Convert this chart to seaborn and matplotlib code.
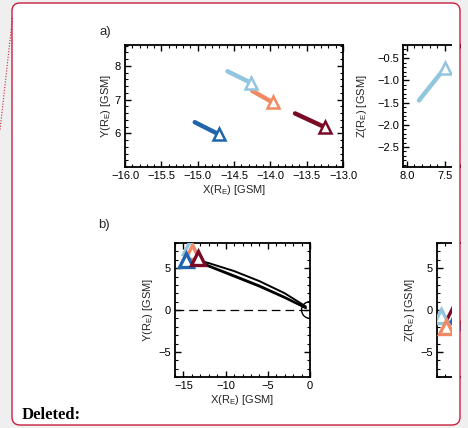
import numpy as np
import pandas as pd
import matplotlib
matplotlib.use("Agg")
import matplotlib.pyplot as plt
import seaborn as sns
from matplotlib.patches import FancyBboxPatch, Rectangle, Circle
from matplotlib.lines import Line2D
from matplotlib.transforms import IdentityTransform
from matplotlib.ticker import MultipleLocator

# ---------------- data ----------------
events = ["E1", "E2", "E3", "E4"]
colors = ["#2166ac", "#92c5de", "#ef8a62", "#7a0a26"]
x_start = [-15.04, -14.59, -14.25, -13.66]
x_end = [-14.71, -14.27, -13.97, -13.25]
y_start = [6.33, 7.84, 7.26, 6.59]
y_end = [5.97, 7.50, 6.92, 6.18]
z_start = [-1.9, -1.45, -2.5, -1.1]
z_end = [-1.4, -0.72, -2.0, -0.6]

# field lines traced toward Earth (panel b)
fl_x = [[-14.6, -12.0, -9.0, -6.0, -3.0, -0.5],
        [-14.2, -12.0, -9.0, -6.0, -3.0, -0.5],
        [-13.3, -12.0, -9.0, -6.0, -3.0, -0.5]]
fl_y = [[6.00, 5.20, 4.00, 2.80, 1.45, 0.22],
        [6.20, 5.60, 4.65, 3.45, 2.00, 0.42],
        [6.10, 5.30, 4.12, 2.92, 1.55, 0.28]]

xticks_a1 = [-16.0, -15.5, -15.0, -14.5, -14.0, -13.5, -13.0]
yticks_a1 = [6, 7, 8]
xticks_a2 = [8.0, 7.5, 7.0, 6.5, 6.0, 5.5]
yticks_a2 = [-0.5, -1.0, -1.5, -2.0, -2.5]
ticks_b = [-15, -10, -5, 0]
yticks_b = [-5, 0, 5]

# ---------------- style ----------------
sns.set_theme(style="ticks")
plt.rcParams["font.family"] = ["Liberation Sans", "DejaVu Sans"]
plt.rcParams["mathtext.default"] = "regular"
plt.rcParams["axes.unicode_minus"] = True

W, H = 468, 428
fig = plt.figure(figsize=(W / 100, H / 100), dpi=100)
fig.patch.set_facecolor("#efefef")

box_col = "#c81e3c"

# white rounded comment box (background)
fig.add_artist(FancyBboxPatch((12, 3), 448, 422,
                              boxstyle="round,pad=0,rounding_size=8",
                              transform=IdentityTransform(), facecolor="white",
                              edgecolor="none", zorder=-5))


def px_axes(l, t, r, b):
    return fig.add_axes([l / W, 1 - b / H, (r - l) / W, (b - t) / H])


a1 = px_axes(125, 45, 343, 167)
a2 = px_axes(403, 45, 621, 167)
b1 = px_axes(175, 243, 310, 377)
b2 = px_axes(437, 243, 572, 377)

FS = 8
lab = "(R$_E$) [GSM]"


def style(ax):
    ax.set_facecolor("white")
    for s in ax.spines.values():
        s.set_linewidth(1.3)
        s.set_color("black")
        s.set_visible(True)
    ax.tick_params(which="both", direction="in", top=True, right=True,
                   labelsize=FS, color="black", labelcolor="black", pad=3)
    ax.tick_params(which="major", length=4, width=1)
    ax.tick_params(which="minor", length=2, width=0.8)
    ax.grid(False)


df = pd.DataFrame({
    "event": events * 2,
    "x": x_start + x_end,
    "y": y_start + y_end,
    "z": z_start + z_end,
})
pal = dict(zip(events, colors))

# ---- panel a1: X vs Y ----
sns.lineplot(data=df, x="x", y="y", hue="event", palette=pal, estimator=None,
             sort=False, lw=3.2, legend=False, ax=a1)
for xe, ye, c in zip(x_end, y_end, colors):
    a1.plot([xe], [ye], marker="^", ms=9, mfc="white", mec=c, mew=1.8, zorder=5)
a1.set_xlim(-16.0, -13.0)
a1.set_ylim(5.0, 8.62)
a1.set_xticks(xticks_a1)
a1.set_xticklabels([f"{v:.1f}".replace("-", "\u2212") for v in xticks_a1])
a1.set_yticks(yticks_a1)
a1.xaxis.set_minor_locator(MultipleLocator(0.1))
a1.yaxis.set_minor_locator(MultipleLocator(0.2))
a1.set_xlabel("X" + lab, fontsize=FS, labelpad=1)
a1.set_ylabel("Y" + lab, fontsize=FS, labelpad=1)
style(a1)

# ---- panel a2: Y vs Z ----
sns.lineplot(data=df, x="y", y="z", hue="event", palette=pal, estimator=None,
             sort=False, lw=3.2, legend=False, ax=a2)
for ye, ze, c in zip(y_end, z_end, colors):
    a2.plot([ye], [ze], marker="^", ms=9, mfc="white", mec=c, mew=1.8, zorder=5)
a2.set_xlim(8.05, 5.18)
a2.set_ylim(-2.95, -0.2)
a2.set_xticks(xticks_a2)
a2.set_xticklabels([f"{v:.1f}" if v >= 7.5 else "" for v in xticks_a2])
a2.set_yticks(yticks_a2)
a2.set_yticklabels([f"{v:.1f}".replace("-", "\u2212") for v in yticks_a2])
a2.xaxis.set_minor_locator(MultipleLocator(0.1))
a2.yaxis.set_minor_locator(MultipleLocator(0.1))
a2.set_xlabel("")
a2.set_ylabel("Z" + lab, fontsize=FS, labelpad=6)
style(a2)

# ---- panel b1: X vs Y overview ----
b1.axhline(0, color="black", lw=0.9, ls=(0, (7, 4)))
for fx, fy in zip(fl_x, fl_y):
    sns.lineplot(x=fx, y=fy, color="black", lw=1.4, sort=False, estimator=None, ax=b1)
b1.add_patch(Circle((0, 0), 1.0, fill=False, ec="black", lw=1.0))
order = [1, 2, 0, 3]
for i in order:
    b1.plot([x_end[i]], [y_end[i]], marker="^", ms=9.5, mfc="white", mec=colors[i],
            mew=2.4, zorder=5)
b1.set_xlim(-16, 0)
b1.set_ylim(-8, 8)
b1.set_xticks(ticks_b)
b1.set_yticks(yticks_b)
b1.xaxis.set_minor_locator(MultipleLocator(1))
b1.yaxis.set_minor_locator(MultipleLocator(1))
b1.set_xlabel("X" + lab, fontsize=FS, labelpad=1)
b1.set_ylabel("Y" + lab, fontsize=FS, labelpad=2)
style(b1)

# ---- panel b2: Y vs Z overview ----
for i in [3, 0, 1, 2]:
    b2.plot([y_end[i]], [z_end[i]], marker="^", ms=9.5, mfc="white", mec=colors[i],
            mew=2.4, zorder=5)
b2.set_xlim(8, -8)
b2.set_ylim(-8, 8)
b2.set_yticks(yticks_b)
b2.set_xticks([5, 0, -5])
b2.set_xticklabels(["", "", ""])
b2.xaxis.set_minor_locator(MultipleLocator(1))
b2.yaxis.set_minor_locator(MultipleLocator(1))
b2.set_xlabel("")
b2.set_ylabel("Z" + lab, fontsize=FS, labelpad=2)
style(b2)

# panel letters
fig.text(99 / W, 1 - 31.5 / H, "a)", fontsize=9.5, va="center", ha="left")
fig.text(98 / W, 1 - 225 / H, "b)", fontsize=9.5, va="center", ha="left")

# clip region at the right of the embedded image
fig.add_artist(Rectangle((452, 4), 7.5, 420, transform=IdentityTransform(),
                         facecolor="white", edgecolor="none", zorder=20))
fig.add_artist(Rectangle((460.5, 0), 10, 428, transform=IdentityTransform(),
                         facecolor="#efefef", edgecolor="none", zorder=20))
# comment box outline
fig.add_artist(FancyBboxPatch((12, 3), 448, 422,
                              boxstyle="round,pad=0,rounding_size=8",
                              transform=IdentityTransform(), facecolor="none",
                              edgecolor=box_col, lw=1.0, zorder=25))
# dotted connector
fig.add_artist(Line2D([12.5, 0], [428 - 18, 428 - 130], transform=IdentityTransform(),
                      color=box_col, lw=0.8, ls=(0, (1, 1.5)), zorder=25))

fig.text(22 / W, 1 - 415 / H, "Deleted:", fontfamily="Liberation Serif",
         fontweight="bold", fontsize=12, va="center", ha="left", color="black",
         zorder=30)

fig.savefig("out.png", dpi=100, facecolor=fig.get_facecolor())
